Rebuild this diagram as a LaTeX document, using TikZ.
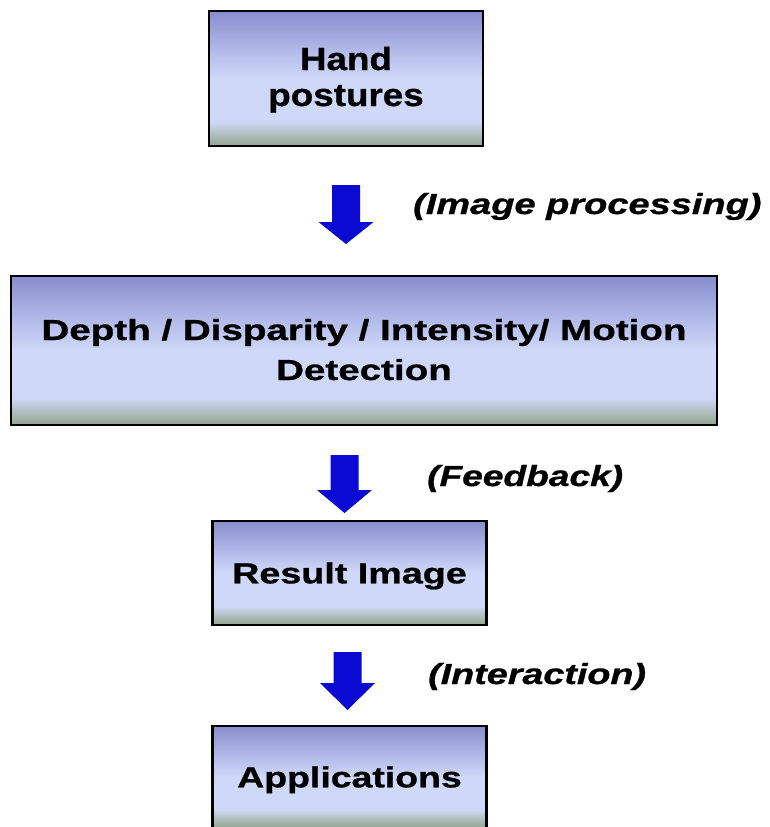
\documentclass[tikz,border=0pt]{standalone}
\usepackage{fontspec}
\setmainfont{Liberation Sans}[BoldFeatures={FakeBold=0.8}, BoldItalicFeatures={FakeBold=0.8}]
\usepackage{graphicx}
\definecolor{boxtop}{RGB}{136,142,204}
\definecolor{boxupper}{RGB}{172,180,230}
\definecolor{boxlight}{RGB}{207,216,248}
\definecolor{boxfade}{RGB}{165,182,172}
\definecolor{boxbottom}{RGB}{146,164,148}
\definecolor{arrowblue}{RGB}{10,10,210}
\pgfdeclareverticalshading{boxfill}{100bp}{%
  color(0bp)=(boxbottom); color(25bp)=(boxbottom); color(28bp)=(boxfade);
  color(34bp)=(boxlight); color(50bp)=(boxlight); color(62.5bp)=(boxupper);
  color(75bp)=(boxtop); color(100bp)=(boxtop)}
% horizontally widened text
\newcommand\wide[2]{\scalebox{#1}[1]{#2}}
% block arrow: centre x, top y, head start y, tip y
\newcommand\blockarrow[4]{%
  \fill[arrowblue] (#1-14,#2) -- (#1+14,#2) -- (#1+14,#3) -- (#1+27.5,#3)
    -- (#1,#4) -- (#1-27.5,#3) -- (#1-14,#3) -- cycle;}
\begin{document}
\begin{tikzpicture}[x=1pt,y=-1pt,
  stage/.style={draw=black, line width=2.5pt, shading=boxfill, inner sep=0pt,
    font=\fontsize{29}{30}\bfseries\selectfont},
  oneline/.style={text height=20.7pt, text depth=0pt},
  twoline/.style={text height=20pt, text depth=#1},
  note/.style={anchor=base west, inner sep=0pt,
    font=\fontsize{29}{30}\bfseries\itshape\selectfont}]
\clip (0,0) rectangle (770,827);
\fill[white] (0,0) rectangle (770,827);

\node[stage, twoline=37pt, minimum width=274pt, minimum height=135pt,
  font=\fontsize{32}{36}\bfseries\selectfont] (hand) at (346,78.5)
  {\wide{1.15}{\begin{tabular}[t]{@{}c@{}}Hand\\postures\end{tabular}}};
\node[stage, twoline=41pt, minimum width=706pt, minimum height=149pt] (detect) at (364,350.5)
  {\wide{1.33}{\begin{tabular}[t]{@{}c@{}}Depth / Disparity / Intensity/ Motion\\[10pt]Detection\end{tabular}}};
\node[stage, oneline, minimum width=274pt, minimum height=104pt] (result) at (349.5,573)
  {\wide{1.30}{Result Image}};
\node[stage, oneline, minimum width=274pt, minimum height=102pt] (apps) at (349.5,777)
  {\wide{1.29}{Applications}};

\blockarrow{346}{185}{222}{244}
\blockarrow{344.5}{455}{490}{513}
\blockarrow{347.5}{652}{683}{710}

\node[note] (lbl1) at (413,214) {\wide{1.31}{(Image processing)}};
\node[note] (lbl2) at (427,486) {\wide{1.28}{(Feedback)}};
\node[note] (lbl3) at (428,684) {\wide{1.30}{(Interaction)}};
\end{tikzpicture}
\end{document}
